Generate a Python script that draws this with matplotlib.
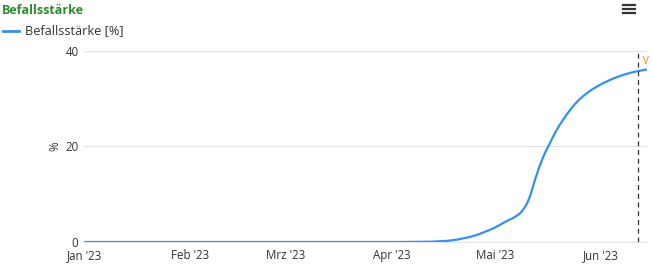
import matplotlib
matplotlib.use('Agg')
from matplotlib import pyplot as plt
from matplotlib.lines import Line2D
from matplotlib.path import Path
from matplotlib.patches import PathPatch
import matplotlib.dates as mdates
import pandas as pd
import numpy as np

plt.rcParams['font.family'] = ['Open Sans', 'DejaVu Sans']

# readings of the curve (date, Befallsstärke in %)
dates = ['2023-01-01', '2023-02-01', '2023-03-01', '2023-04-01', '2023-04-10',
         '2023-04-15', '2023-04-19', '2023-04-22', '2023-04-25', '2023-04-28',
         '2023-05-01', '2023-05-04', '2023-05-07', '2023-05-09', '2023-05-11',
         '2023-05-13', '2023-05-15', '2023-05-17', '2023-05-19', '2023-05-21',
         '2023-05-23', '2023-05-25', '2023-05-28', '2023-05-31', '2023-06-03',
         '2023-06-06', '2023-06-09', '2023-06-12', '2023-06-15']
values = [0, 0, 0, 0, 0.05,
          0.15, 0.4, 0.8, 1.3, 2.1,
          3.0, 4.2, 5.3, 6.5, 9.0,
          13.5, 17.5, 20.5, 23.3, 25.6,
          27.6, 29.3, 31.2, 32.6, 33.7,
          34.6, 35.3, 35.8, 36.2]
tick_dates = ['2023-01-01', '2023-02-01', '2023-03-01', '2023-04-01', '2023-05-01', '2023-06-01']
tick_labels = ["Jan '23", "Feb '23", "Mrz '23", "Apr '23", "Mai '23", "Jun '23"]
today = '2023-06-12'


def spline_path(xs, ys, smooth=1.5):
    # highcharts-like spline: bezier control points from neighbours
    verts = [(xs[0], ys[0])]
    codes = [Path.MOVETO]
    n = len(xs)
    for i in range(1, n):
        x0, y0 = xs[i - 1], ys[i - 1]
        x1, y1 = xs[i], ys[i]
        if i - 2 >= 0:
            lx, ly = xs[i - 2], ys[i - 2]
            c1x = (smooth * x0 + x1) / (smooth + 1)
            c1y = (smooth * y0 + y1) / (smooth + 1)
            prx = (smooth * x0 + lx) / (smooth + 1)
            pry = (smooth * y0 + ly) / (smooth + 1)
            if c1x != prx:
                c1y = y0 + (c1y - pry) * (c1x - x0) / (c1x - prx)
            c1y = max(min(c1y, max(y0, y1)), min(y0, y1))
        else:
            c1x, c1y = x0, y0
        if i + 1 < n:
            nx, ny = xs[i + 1], ys[i + 1]
            c2x = (smooth * x1 + x0) / (smooth + 1)
            c2y = (smooth * y1 + y0) / (smooth + 1)
            nrx = (smooth * x1 + nx) / (smooth + 1)
            nry = (smooth * y1 + ny) / (smooth + 1)
            if nrx != c2x:
                c2y = y1 + (c2y - nry) * (c2x - x1) / (c2x - nrx)
            c2y = max(min(c2y, max(y0, y1)), min(y0, y1))
        else:
            c2x, c2y = x1, y1
        verts += [(c1x, c1y), (c2x, c2y), (x1, y1)]
        codes += [Path.CURVE4] * 3
    return Path(verts, codes)


x = mdates.date2num(pd.to_datetime(dates))
fig = plt.figure(figsize=(6.52, 2.64), dpi=100)
ax = fig.add_axes([84 / 652, 22 / 264, 563 / 652, 191 / 264])

ax.add_patch(PathPatch(spline_path(list(x), values), fill=False, edgecolor='#3391ef', lw=1.6,
                       capstyle='round', joinstyle='round', zorder=3))
ax.axvline(pd.Timestamp(today), color='#333333', lw=0.9, ls=(0, (4, 3)), zorder=4)
ax.text(pd.Timestamp(today) + pd.Timedelta(days=1.2), 39.0, 'V', color='#e08a00',
        fontsize=7, va='top', ha='left', clip_on=False)

ax.set_xlim(pd.Timestamp('2023-01-01'), pd.Timestamp('2023-06-14 12:00'))
ax.set_ylim(0, 40)
ax.set_yticks([0, 20, 40])
ax.set_xticks(pd.to_datetime(tick_dates))
ax.set_xticklabels(tick_labels)
ax.grid(axis='y', color='#e6e6e6', lw=1)
for s in ['top', 'right', 'left']:
    ax.spines[s].set_visible(False)
ax.spines['bottom'].set_color('#e6e6e6')
ax.tick_params(length=0, labelsize=8.3, colors='#333333')
ax.tick_params(axis='x', pad=5)
ax.tick_params(axis='y', pad=4)
ax.set_ylabel('%', fontsize=8.3, color='#333333', labelpad=2.5)

fig.text(2 / 652, 1 - 10 / 264, 'Befallsstärke', color='#2e8b2e', fontsize=9, fontweight='bold', va='center')
fig.add_artist(Line2D([3 / 652, 19 / 652], [1 - 31 / 264] * 2, color='#3391ef', lw=2))
fig.text(25 / 652, 1 - 31 / 264, 'Befallsstärke [%]', color='#333333', fontsize=9.2, va='center')
for yy in [5, 9, 13]:
    fig.add_artist(Line2D([623 / 652, 635 / 652], [1 - yy / 264] * 2, color='#333333', lw=1.6))

fig.savefig('out.png', dpi=100)
